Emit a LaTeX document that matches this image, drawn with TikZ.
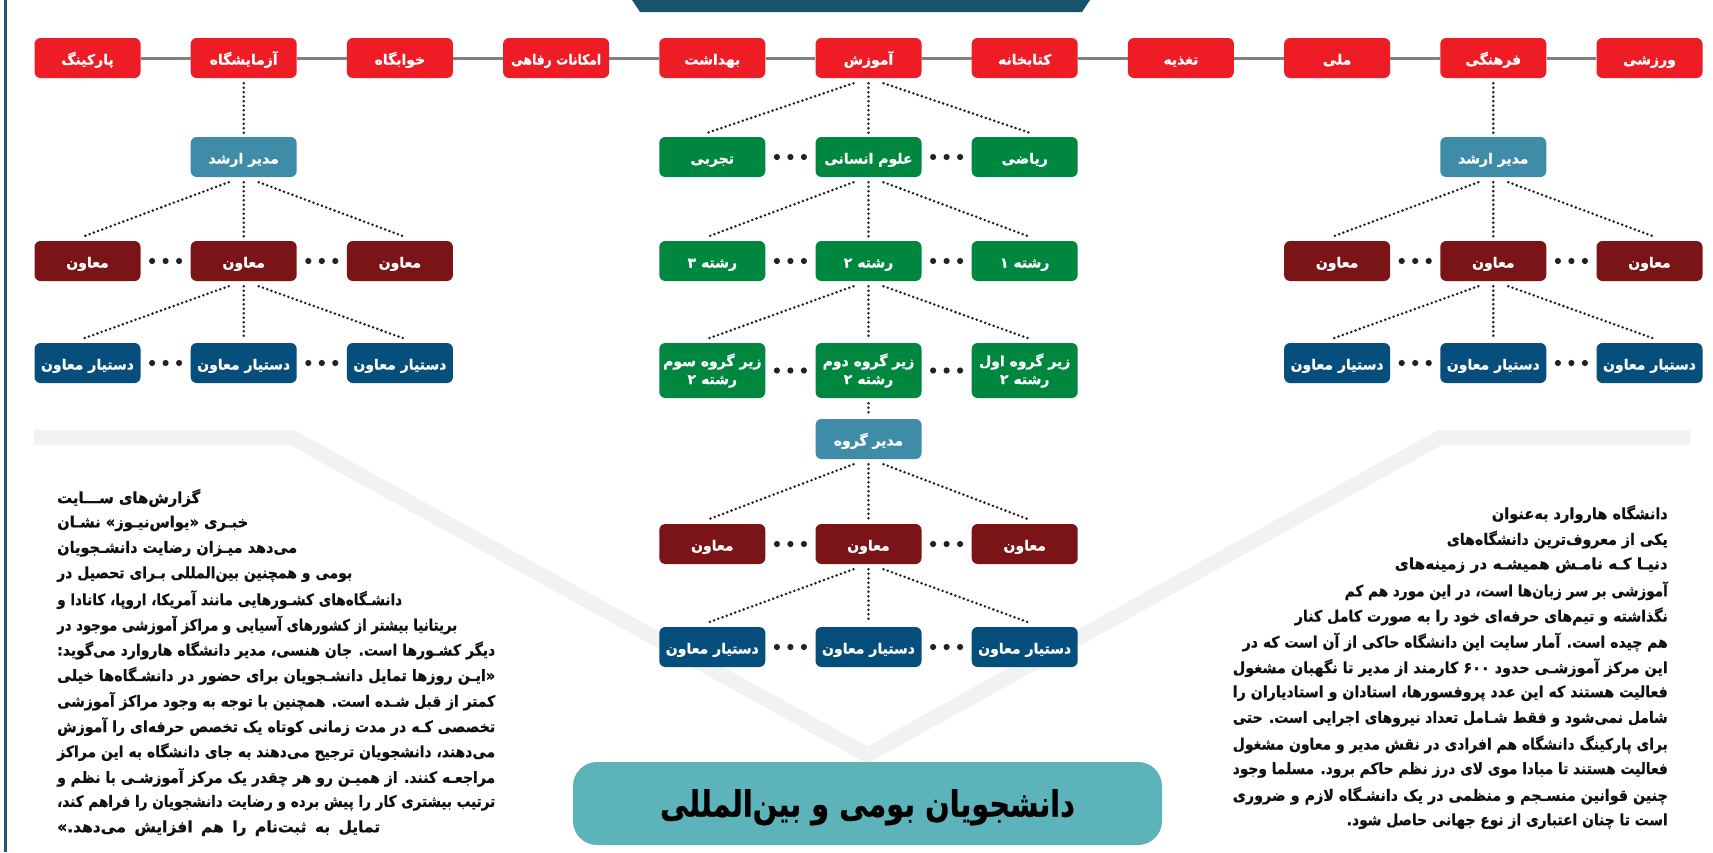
\documentclass[tikz,border=0pt]{standalone}
\usepackage{fontspec}
\usepackage{graphicx}
\usetikzlibrary{calc}
\TeXXeTstate=1
\newfontfamily\fa[Script=Arabic, FakeBold=0.8]{DejaVu Sans}
\newcommand\jl[2]{\setbox0=\hbox{#2}\ifdim\wd0>#1pt\relax\resizebox{#1pt}{\height}{\copy0}\else\hbox to #1pt{#2}\fi}
\newcommand\boxfont{\fa\bfseries\fontsize{14}{18}\selectfont}
\newcommand\parfont{\fa\bfseries\fontsize{15.5}{18}\selectfont}
\definecolor{topred}{HTML}{EE1D25}
\definecolor{steel}{HTML}{3E8CA8}
\definecolor{grn}{HTML}{00873F}
\definecolor{maroon}{HTML}{7B1416}
\definecolor{navy}{HTML}{064E7C}
\definecolor{titleteal}{HTML}{5CB3BA}
\definecolor{headc}{HTML}{17536A}
\definecolor{bandc}{HTML}{F1F2F4}
\definecolor{dotc}{HTML}{222222}
\definecolor{connc}{HTML}{1E1E1E}
\definecolor{hlinec}{HTML}{808080}
\definecolor{framec}{HTML}{1F5C72}
\definecolor{txtc}{HTML}{111111}
\tikzset{
  box/.style={rounded corners=6pt, minimum width=106pt, minimum height=40pt, inner sep=0pt, text=white, font=\boxfont, align=center, text height=13pt, text depth=0pt},
  twoline/.style={minimum height=55pt, text height=, text depth=},
  topbox/.style={box, fill=topred},
  steelbox/.style={box, fill=steel},
  greenbox/.style={box, fill=grn},
  maroonbox/.style={box, fill=maroon},
  navybox/.style={box, fill=navy},
  conn/.style={draw=connc, line width=2.8pt, line cap=round, dash pattern=on 0pt off 4.5pt},
  hline/.style={draw=hlinec, line width=3pt},
  ptext/.style={inner sep=0pt, text=txtc, font=\parfont},
}
\newcommand\threedots[2]{\path ($(#1.east)!0.5!(#2.west)$) coordinate (dm);
  \fill[dotc] (dm) circle (3.1pt) ([xshift=-13.5pt]dm) circle (3.1pt) ([xshift=13.5pt]dm) circle (3.1pt);}
\newcommand\tri[4]{%
  \draw[conn] ([xshift=-15pt,yshift=-5pt]#1.south) -- ([xshift=-5pt,yshift=4pt]#2.north);
  \draw[conn] ([yshift=-5pt]#1.south) -- ([yshift=4pt]#3.north);
  \draw[conn] ([xshift=15pt,yshift=-5pt]#1.south) -- ([xshift=5pt,yshift=4pt]#4.north);}
\newcommand\vconn[2]{\draw[conn] ([yshift=-5pt]#1.south) -- ([yshift=4pt]#2.north);}
\begin{document}
\begin{tikzpicture}[x={(1pt,0pt)}, y={(0pt,-1pt)}]
\useasboundingbox (0,0) rectangle (1713,852);
\fill[white] (0,0) rectangle (1713,852);
% background band
\draw[bandc, line width=15pt, line join=miter] (34,437.5) -- (292,437.5) -- (867,755) -- (1440,437.5) -- (1690,437.5);
% frame and header
\draw[framec, line width=3pt] (5,0) -- (5,852);
\fill[headc] (632,0) -- (1090,0) -- (1082,12) -- (640,12) -- cycle;
% top row
\node[topbox] (t0) at (87.5,58) {\beginR پارکینگ\endR};
\node[topbox] (t1) at (243.7,58) {\beginR آزمایشگاه\endR};
\node[topbox] (t2) at (399.9,58) {\beginR خوابگاه\endR};
\node[topbox] (t3) at (556.1,58) {\jl{90}{\beginR امکانات رفاهی\endR}};
\node[topbox] (t4) at (712.3,58) {\beginR بهداشت\endR};
\node[topbox] (t5) at (868.5,58) {\beginR آموزش\endR};
\node[topbox] (t6) at (1024.7,58) {\beginR کتابخانه\endR};
\node[topbox] (t7) at (1180.9,58) {\beginR تغذیه\endR};
\node[topbox] (t8) at (1337.1,58) {\beginR ملی\endR};
\node[topbox] (t9) at (1493.3,58) {\beginR فرهنگی\endR};
\node[topbox] (t10) at (1649.5,58) {\beginR ورزشی\endR};
\foreach \a/\b in {t0/t1,t1/t2,t2/t3,t3/t4,t4/t5,t5/t6,t6/t7,t7/t8,t8/t9,t9/t10}{\draw[hline] (\a) -- (\b);}
% left block
\node[steelbox] (la) at (243.7,157) {\beginR مدیر ارشد\endR};
\node[maroonbox] (l2a) at (87.5,261) {\beginR معاون\endR};
\node[maroonbox] (l2b) at (243.7,261) {\beginR معاون\endR};
\node[maroonbox] (l2c) at (399.9,261) {\beginR معاون\endR};
\node[navybox] (l3a) at (87.5,363) {\beginR دستیار معاون\endR};
\node[navybox] (l3b) at (243.7,363) {\beginR دستیار معاون\endR};
\node[navybox] (l3c) at (399.9,363) {\beginR دستیار معاون\endR};
\vconn{t1}{la}
\tri{la}{l2a}{l2b}{l2c}
\tri{l2b}{l3a}{l3b}{l3c}
\threedots{l2a}{l2b}\threedots{l2b}{l2c}
\threedots{l3a}{l3b}\threedots{l3b}{l3c}
% middle block
\node[greenbox] (m1a) at (712.3,157) {\beginR تجربی\endR};
\node[greenbox] (m1b) at (868.5,157) {\beginR علوم انسانی\endR};
\node[greenbox] (m1c) at (1024.7,157) {\beginR ریاضی\endR};
\node[greenbox] (m2a) at (712.3,261) {\beginR رشته ۳\endR};
\node[greenbox] (m2b) at (868.5,261) {\beginR رشته ۲\endR};
\node[greenbox] (m2c) at (1024.7,261) {\beginR رشته ۱\endR};
\node[greenbox, twoline] (m3a) at (712.3,370.5) {\beginR زیر گروه سوم\endR\\\beginR رشته ۲\endR};
\node[greenbox, twoline] (m3b) at (868.5,370.5) {\beginR زیر گروه دوم\endR\\\beginR رشته ۲\endR};
\node[greenbox, twoline] (m3c) at (1024.7,370.5) {\beginR زیر گروه اول\endR\\\beginR رشته ۲\endR};
\node[steelbox] (m4) at (868.5,439) {\beginR مدیر گروه\endR};
\node[maroonbox] (m5a) at (712.3,544) {\beginR معاون\endR};
\node[maroonbox] (m5b) at (868.5,544) {\beginR معاون\endR};
\node[maroonbox] (m5c) at (1024.7,544) {\beginR معاون\endR};
\node[navybox] (m6a) at (712.3,647) {\beginR دستیار معاون\endR};
\node[navybox] (m6b) at (868.5,647) {\beginR دستیار معاون\endR};
\node[navybox] (m6c) at (1024.7,647) {\beginR دستیار معاون\endR};
\tri{t5}{m1a}{m1b}{m1c}
\tri{m1b}{m2a}{m2b}{m2c}
\tri{m2b}{m3a}{m3b}{m3c}
\vconn{m3b}{m4}
\tri{m4}{m5a}{m5b}{m5c}
\tri{m5b}{m6a}{m6b}{m6c}
\threedots{m1a}{m1b}\threedots{m1b}{m1c}
\threedots{m2a}{m2b}\threedots{m2b}{m2c}
\threedots{m3a}{m3b}\threedots{m3b}{m3c}
\threedots{m5a}{m5b}\threedots{m5b}{m5c}
\threedots{m6a}{m6b}\threedots{m6b}{m6c}
% right block
\node[steelbox] (ra) at (1493.3,157) {\beginR مدیر ارشد\endR};
\node[maroonbox] (r2a) at (1337.1,261) {\beginR معاون\endR};
\node[maroonbox] (r2b) at (1493.3,261) {\beginR معاون\endR};
\node[maroonbox] (r2c) at (1649.5,261) {\beginR معاون\endR};
\node[navybox] (r3a) at (1337.1,363) {\beginR دستیار معاون\endR};
\node[navybox] (r3b) at (1493.3,363) {\beginR دستیار معاون\endR};
\node[navybox] (r3c) at (1649.5,363) {\beginR دستیار معاون\endR};
\vconn{t9}{ra}
\tri{ra}{r2a}{r2b}{r2c}
\tri{r2b}{r3a}{r3b}{r3c}
\threedots{r2a}{r2b}\threedots{r2b}{r2c}
\threedots{r3a}{r3b}\threedots{r3b}{r3c}
% left paragraph
\node[ptext, anchor=west] (p1) at (57,498) {\jl{143}{\beginR گزارش^^^^200cهای ســـایت\endR}};
\node[ptext, anchor=west] (p2) at (57,523.4) {\jl{191}{\beginR خبـری «یواس^^^^200cنیـوز» نشـان\endR}};
\node[ptext, anchor=west] (p3) at (57,548.8) {\jl{240}{\beginR می^^^^200cدهد میـزان رضایت دانشـجویان\endR}};
\node[ptext, anchor=west] (p4) at (57,574.2) {\jl{295}{\beginR بومی و همچنین بین^^^^200cالمللی بـرای تحصیل در\endR}};
\node[ptext, anchor=west] (p5) at (57,599.6) {\jl{345}{\beginR دانشـگاه^^^^200cهای کشـورهایی مانند آمریکا، اروپا، کانادا و\endR}};
\node[ptext, anchor=west] (p6) at (57,625) {\jl{400}{\beginR بریتانیا بیشتر از کشورهای آسیایی و مراکز آموزشی موجود در\endR}};
\node[ptext, anchor=west] (p7) at (57,650.4) {\jl{438}{\beginR دیگر کشـورها است. جان هنسی، مدیر دانشگاه هاروارد می^^^^200cگوید:\endR}};
\node[ptext, anchor=west] (p8) at (57,675.8) {\jl{438}{\beginR «ایـن روزها تمایل دانشـجویان برای حضور در دانشـگاه^^^^200cها خیلی\endR}};
\node[ptext, anchor=west] (p9) at (57,701.2) {\jl{438}{\beginR کمتر از قبل شـده است. همچنین با توجه به وجود مراکز آموزشی\endR}};
\node[ptext, anchor=west] (p10) at (57,726.6) {\jl{438}{\beginR تخصصی کـه در مدت زمانی کوتاه یک تخصص حرفه^^^^200cای را آموزش\endR}};
\node[ptext, anchor=west] (p11) at (57,752) {\jl{438}{\beginR می^^^^200cدهند، دانشجویان ترجیح می^^^^200cدهند به جای دانشگاه به این مراکز\endR}};
\node[ptext, anchor=west] (p12) at (57,777.4) {\jl{438}{\beginR مراجعـه کنند. از همیـن رو هر چقدر یک مرکز آموزشـی با نظم و\endR}};
\node[ptext, anchor=west] (p13) at (57,802.8) {\jl{438}{\beginR ترتیب بیشتری کار را پیش برده و رضایت دانشجویان را فراهم کند،\endR}};
\node[ptext, anchor=west] (p14) at (57,828.2) {\jl{323}{\beginR تمایل به ثبت^^^^200cنام را هم افزایش می^^^^200cدهد.»\endR}};
% right paragraph
\node[ptext, anchor=east] (q1) at (1668,514) {\jl{176}{\beginR دانشگاه هاروارد به^^^^200cعنوان\endR}};
\node[ptext, anchor=east] (q2) at (1668,539.6) {\jl{221}{\beginR یکی از معروف^^^^200cترین دانشگاه^^^^200cهای\endR}};
\node[ptext, anchor=east] (q3) at (1668,565.2) {\jl{273}{\beginR دنیـا کـه نامـش همیشـه در زمینه^^^^200cهای\endR}};
\node[ptext, anchor=east] (q4) at (1668,590.8) {\jl{323}{\beginR آموزشی بر سر زبان^^^^200cها است، در این مورد هم کم\endR}};
\node[ptext, anchor=east] (q5) at (1668,616.4) {\jl{373}{\beginR نگذاشته و تیم^^^^200cهای حرفه^^^^200cای خود را به صورت کامل کنار\endR}};
\node[ptext, anchor=east] (q6) at (1668,642) {\jl{425}{\beginR هم چیده است. آمار سایت این دانشگاه حاکی از آن است که در\endR}};
\node[ptext, anchor=east] (q7) at (1668,667.6) {\jl{435}{\beginR این مرکز آموزشـی حدود ۶۰۰ کارمند از مدیر تا نگهبان مشغول\endR}};
\node[ptext, anchor=east] (q8) at (1668,693.2) {\jl{435}{\beginR فعالیت هستند که این عدد پروفسورها، استادان و استادیاران را\endR}};
\node[ptext, anchor=east] (q9) at (1668,718.8) {\jl{435}{\beginR شامل نمی^^^^200cشود و فقط شـامل تعداد نیروهای اجرایی است. حتی\endR}};
\node[ptext, anchor=east] (q10) at (1668,744.4) {\jl{435}{\beginR برای پارکینگ دانشگاه هم افرادی در نقش مدیر و معاون مشغول\endR}};
\node[ptext, anchor=east] (q11) at (1668,770) {\jl{435}{\beginR فعالیت هستند تا مبادا موی لای درز نظم حاکم برود. مسلما وجود\endR}};
\node[ptext, anchor=east] (q12) at (1668,795.6) {\jl{435}{\beginR چنین قوانین منسـجم و منظمی در یک دانشـگاه لازم و ضروری\endR}};
\node[ptext, anchor=east] (q13) at (1668,821.2) {\jl{321}{\beginR است تا چنان اعتباری از نوع جهانی حاصل شود.\endR}};
% title
\node[rounded corners=24pt, fill=titleteal, minimum width=589pt, minimum height=83pt, inner sep=0pt, text=black, font=\fa\bfseries\fontsize{36}{40}\selectfont, text height=28pt, text depth=2pt] (title) at (867.5,803.5) {\jl{415}{\beginR دانشجویان بومی و بین^^^^200cالمللی\endR}};
\end{tikzpicture}
\end{document}
